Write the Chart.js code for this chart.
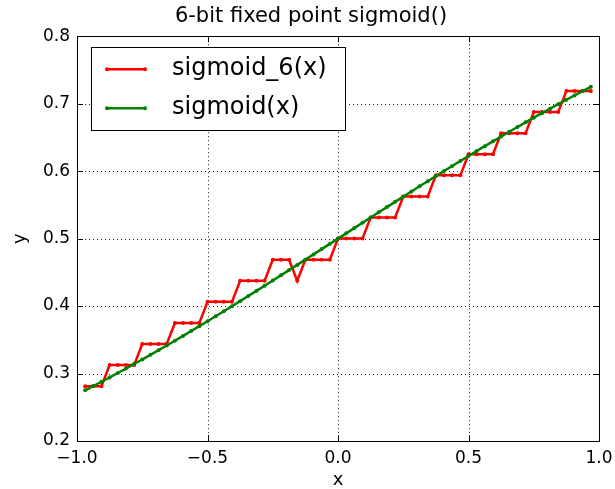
<!DOCTYPE html>
<html lang="en">
<head>
  <meta charset="UTF-8" />
  <title>6-bit fixed point sigmoid()</title>
  <script src="https://cdn.jsdelivr.net/npm/chart.js"></script>
  <style>
    body {
      margin: 0;
      background: #fff;
    }
    #chart {
      display: block;
    }
  </style>
</head>
<body>
<canvas id="chart" width="615" height="489"></canvas>
<script>
  // x samples (k/32)
  const xs = [
    -0.96875, -0.9375, -0.90625, -0.875, -0.84375, -0.8125, -0.78125, -0.75,
    -0.71875, -0.6875, -0.65625, -0.625, -0.59375, -0.5625, -0.53125, -0.5,
    -0.46875, -0.4375, -0.40625, -0.375, -0.34375, -0.3125, -0.28125, -0.25,
    -0.21875, -0.1875, -0.15625, -0.125, -0.09375, -0.0625, -0.03125, 0,
    0.03125, 0.0625, 0.09375, 0.125, 0.15625, 0.1875, 0.21875, 0.25,
    0.28125, 0.3125, 0.34375, 0.375, 0.40625, 0.4375, 0.46875, 0.5,
    0.53125, 0.5625, 0.59375, 0.625, 0.65625, 0.6875, 0.71875, 0.75,
    0.78125, 0.8125, 0.84375, 0.875, 0.90625, 0.9375, 0.96875
  ];

  // fixed point version
  const sigmoid6 = [
    0.28125, 0.28125, 0.28125,
    0.3125, 0.3125, 0.3125, 0.3125,
    0.34375, 0.34375, 0.34375, 0.34375,
    0.375, 0.375, 0.375, 0.375,
    0.40625, 0.40625, 0.40625, 0.40625,
    0.4375, 0.4375, 0.4375, 0.4375,
    0.46875, 0.46875, 0.46875, 0.4375,
    0.46875, 0.46875, 0.46875, 0.46875,
    0.5, 0.5, 0.5, 0.5,
    0.53125, 0.53125, 0.53125, 0.53125,
    0.5625, 0.5625, 0.5625, 0.5625,
    0.59375, 0.59375, 0.59375, 0.59375,
    0.625, 0.625, 0.625, 0.625,
    0.65625, 0.65625, 0.65625, 0.65625,
    0.6875, 0.6875, 0.6875, 0.6875,
    0.71875, 0.71875, 0.71875, 0.71875
  ];

  const sigmoid = [
    0.2751, 0.2814, 0.2878, 0.2942, 0.3008, 0.3074, 0.3141, 0.3208,
    0.3277, 0.3346, 0.3416, 0.3486, 0.3558, 0.3630, 0.3702, 0.3775,
    0.3849, 0.3923, 0.3998, 0.4073, 0.4149, 0.4225, 0.4302, 0.4378,
    0.4455, 0.4533, 0.4610, 0.4688, 0.4766, 0.4844, 0.4922, 0.5,
    0.5078, 0.5156, 0.5234, 0.5312, 0.5390, 0.5467, 0.5545, 0.5622,
    0.5698, 0.5775, 0.5851, 0.5927, 0.6002, 0.6077, 0.6151, 0.6225,
    0.6298, 0.6370, 0.6442, 0.6514, 0.6584, 0.6654, 0.6723, 0.6792,
    0.6859, 0.6926, 0.6993, 0.7058, 0.7122, 0.7186, 0.7249
  ];

  const seriesNames = ["sigmoid_6(x)", "sigmoid(x)"];
  const xTicks = [-1.0, -0.5, 0.0, 0.5, 1.0];
  const yTicks = [0.2, 0.3, 0.4, 0.5, 0.6, 0.7, 0.8];

  const FONT = "'DejaVu Sans', sans-serif";
  const fmt = v => (v < 0 ? "\u2212" : "") + Math.abs(v).toFixed(1);

  // dotted grid under the lines
  const gridPlugin = {
    id: "dotgrid",
    afterLayout(chart) {
      // matplotlib centres the title a bit right of the canvas centre here
      if (chart.titleBlock) {
        chart.titleBlock.left = 23;
        chart.titleBlock.right = 599;
      }
    },
    beforeDatasetsDraw(chart) {
      const { ctx, chartArea: a, scales } = chart;
      ctx.save();
      ctx.strokeStyle = "#222";
      ctx.lineWidth = 1;
      ctx.setLineDash([1, 3]);
      ctx.beginPath();
      xTicks.forEach(v => {
        const px = Math.round(scales.x.getPixelForValue(v)) + 0.5;
        ctx.moveTo(px, a.top); ctx.lineTo(px, a.bottom);
      });
      yTicks.forEach(v => {
        const py = Math.round(scales.y.getPixelForValue(v)) + 0.5;
        ctx.moveTo(a.left, py); ctx.lineTo(a.right, py);
      });
      ctx.stroke();
      ctx.restore();
    }
  };

  // frame, inward ticks and the legend box, matplotlib style
  const framePlugin = {
    id: "frame",
    afterDraw(chart) {
      const { ctx, chartArea: a, scales } = chart;
      ctx.save();
      ctx.strokeStyle = "#000";
      ctx.lineWidth = 1;
      const tl = 6;
      ctx.beginPath();
      xTicks.forEach(v => {
        const px = Math.round(scales.x.getPixelForValue(v)) + 0.5;
        ctx.moveTo(px, a.bottom); ctx.lineTo(px, a.bottom - tl);
        ctx.moveTo(px, a.top); ctx.lineTo(px, a.top + tl);
      });
      yTicks.forEach(v => {
        const py = Math.round(scales.y.getPixelForValue(v)) + 0.5;
        ctx.moveTo(a.left, py); ctx.lineTo(a.left + tl, py);
        ctx.moveTo(a.right, py); ctx.lineTo(a.right - tl, py);
      });
      ctx.stroke();
      ctx.strokeRect(Math.round(a.left) + 0.5, Math.round(a.top) + 0.5,
        Math.round(a.right - a.left), Math.round(a.bottom - a.top));

      // legend
      const bx = a.left + 14, by = a.top + 11, bw = 254, bh = 83;
      ctx.fillStyle = "#fff";
      ctx.fillRect(bx, by, bw, bh);
      ctx.strokeRect(Math.round(bx) + 0.5, Math.round(by) + 0.5, bw, bh);
      ctx.font = "24px " + FONT;
      ctx.textBaseline = "middle";
      chart.data.datasets.forEach((ds, i) => {
        const ly = by + 22 + i * 39;
        ctx.strokeStyle = ds.borderColor;
        ctx.lineWidth = 2.5;
        ctx.beginPath();
        ctx.moveTo(bx + 16, ly); ctx.lineTo(bx + 54, ly);
        ctx.stroke();
        ctx.fillStyle = ds.borderColor;
        [bx + 16, bx + 54].forEach(mx => {
          ctx.beginPath(); ctx.arc(mx, ly, 2, 0, Math.PI * 2); ctx.fill();
        });
        ctx.fillStyle = "#000";
        ctx.fillText(ds.label, bx + 81, ly);
      });
      ctx.restore();
    }
  };

  new Chart(document.getElementById("chart"), {
    type: "line",
    data: {
      datasets: [
        {
          label: seriesNames[0],
          data: xs.map((x, i) => ({ x: x, y: sigmoid6[i] })),
          borderColor: "#ff0000",
          backgroundColor: "#ff0000",
          borderWidth: 2.5,
          pointRadius: 2,
          pointBorderWidth: 0,
          tension: 0,
          order: 1
        },
        {
          label: seriesNames[1],
          data: xs.map((x, i) => ({ x: x, y: sigmoid[i] })),
          borderColor: "#008000",
          backgroundColor: "#008000",
          borderWidth: 2.5,
          pointRadius: 2,
          pointBorderWidth: 0,
          tension: 0,
          order: 0
        }
      ]
    },
    options: {
      responsive: false,
      animation: false,
      layout: { padding: { top: 0, right: 16, bottom: 0, left: 0 } },
      plugins: {
        legend: { display: false },
        tooltip: { enabled: false },
        title: {
          display: true,
          text: "6-bit fixed point sigmoid()",
          color: "#000",
          font: { family: FONT, size: 21, weight: "normal", lineHeight: 1.2 },
          padding: { top: 4, bottom: 7 }
        }
      },
      scales: {
        x: {
          type: "linear",
          min: -1,
          max: 1,
          afterFit: s => { s.height = 48; s.paddingLeft = 0; s.paddingRight = 0; },
          afterBuildTicks: s => { s.ticks = xTicks.map(v => ({ value: v })); },
          ticks: {
            color: "#000",
            padding: 7,
            font: { family: FONT, size: 17 },
            callback: v => fmt(v)
          },
          grid: { display: false, drawTicks: false },
          border: { display: false },
          title: {
            display: true,
            text: "x",
            color: "#000",
            font: { family: FONT, size: 18, lineHeight: 1 },
            padding: { top: 0, bottom: 0 }
          }
        },
        y: {
          type: "linear",
          min: 0.2,
          max: 0.8,
          afterFit: s => { s.width = 77; s.paddingTop = 0; s.paddingBottom = 0; },
          afterBuildTicks: s => { s.ticks = yTicks.map(v => ({ value: v })); },
          ticks: {
            color: "#000",
            padding: 7,
            font: { family: FONT, size: 17 },
            callback: v => fmt(v)
          },
          grid: { display: false, drawTicks: false },
          border: { display: false },
          title: {
            display: true,
            text: "y",
            color: "#000",
            font: { family: FONT, size: 18, lineHeight: 1 },
            padding: { top: 11, bottom: 0 }
          }
        }
      }
    },
    plugins: [gridPlugin, framePlugin]
  });
</script>
</body>
</html>
